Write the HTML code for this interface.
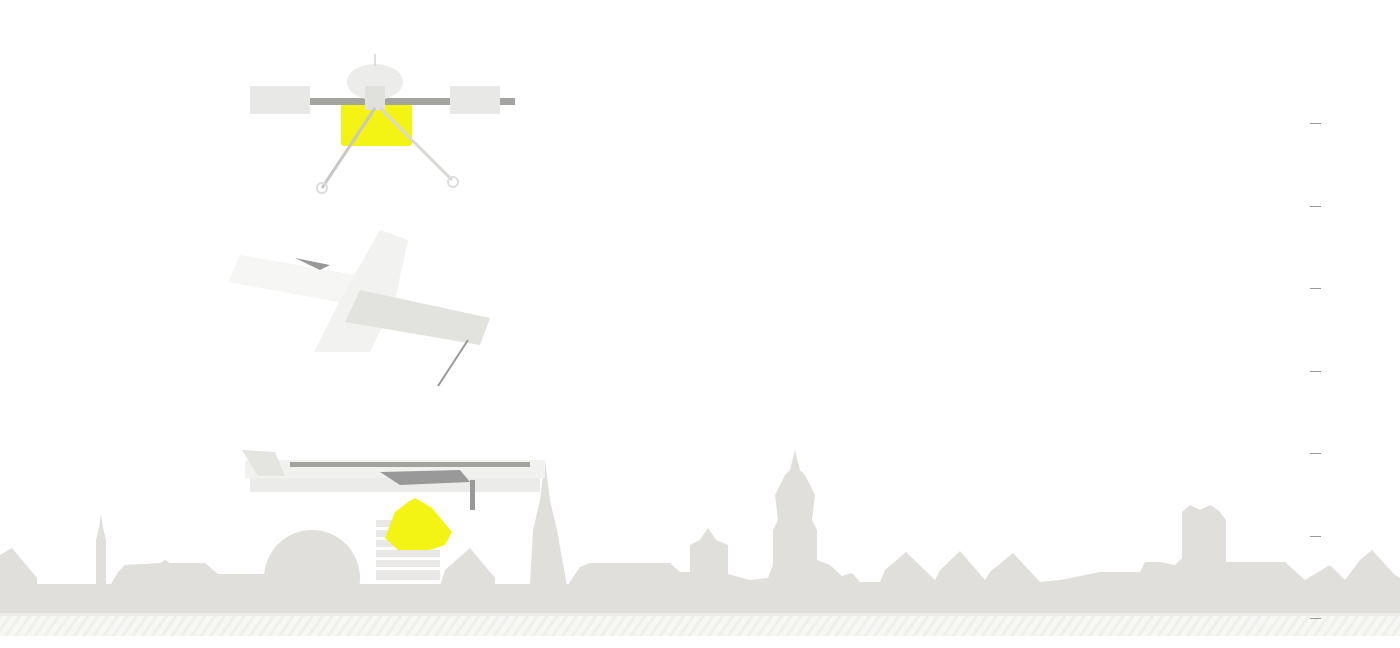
<!DOCTYPE html>
<html><head><meta charset="utf-8"><style>html,body{margin:0;padding:0;background:#fff;width:1400px;height:648px;overflow:hidden}</style></head>
<body>
<svg width="1400" height="648" viewBox="0 0 1400 648" xmlns="http://www.w3.org/2000/svg">
<defs>
<pattern id="h" width="8" height="8" patternUnits="userSpaceOnUse" patternTransform="rotate(35)">
<rect width="8" height="8" fill="#f7f7f5"/><rect width="3" height="8" fill="#efefec"/></pattern>
</defs>
<!-- skyline -->
<g fill="#e0dfdc">
<polygon points="0,555 12,548 37,578 37,586 0,586"/>
<polygon points="96,586 96,540 99,528 101,514 103,528 106,540 106,586"/>
<polygon points="110,586 118,572 125,565 160,563 165,560 170,563 205,563 218,574 265,574 265,586"/>
<circle cx="312" cy="578" r="48"/>
<polygon points="440,586 445,570 470,548 495,578 495,586"/>
<polygon points="530,586 533,530 540,500 545,460 550,500 557,530 567,586"/>
<polygon points="567,586 580,567 590,563 670,563 680,572 690,572 690,545 700,540 708,528 716,540 728,545 728,574 750,580 768,578 773,565 773,530 778,520 775,495 785,475 790,470 795,450 800,470 805,475 815,495 812,520 817,530 817,560 830,565 842,576 852,573 860,582 880,582 885,570 906,552 935,580 940,570 960,551 985,580 990,572 1013,553 1040,582 1060,580 1100,572 1140,572 1145,562 1160,562 1175,565 1182,558 1182,512 1190,505 1200,510 1210,505 1218,510 1226,520 1226,562 1285,562 1305,580 1330,565 1345,580 1360,560 1372,550 1395,575 1400,578 1400,586"/>
<rect x="0" y="584" width="1400" height="30"/>
</g>
<rect x="0" y="613" width="1400" height="3" fill="#ebebea"/>
<rect x="0" y="616" width="1400" height="20" fill="url(#h)"/>
<!-- striped building -->
<g fill="#e9e8e6"><rect x="376" y="520" width="64" height="60"/></g>
<g fill="#fff"><rect x="376" y="527" width="64" height="3"/><rect x="376" y="537" width="64" height="3"/><rect x="376" y="547" width="64" height="3"/><rect x="376" y="557" width="64" height="3"/><rect x="376" y="567" width="64" height="3"/></g>
<!-- yellow bell -->
<path d="M415,498 L422,502 L432,508 L452,532 L445,545 L430,550 L398,550 L385,538 L395,512 L408,502 Z" fill="#f3f314"/>
<!-- fixed wing bottom -->
<g>
<rect x="245" y="460" width="300" height="18" fill="#f1f1ef"/>
<rect x="250" y="478" width="290" height="14" fill="#ebebea"/>
<polygon points="242,450 275,452 285,476 258,476" fill="#e4e4e1"/>
<rect x="290" y="462" width="240" height="5" fill="#a3a3a0"/>
<polygon points="380,472 460,470 470,482 400,485" fill="#999"/>
<rect x="470" y="480" width="5" height="30" fill="#999"/>
</g>
<!-- quadcopter -->
<g>
<rect x="341" y="104" width="71" height="42" rx="3" fill="#f3f314"/>
<rect x="255" y="98" width="260" height="7" fill="#a3a3a0"/>
<rect x="250" y="86" width="60" height="28" fill="#e8e8e6"/>
<rect x="450" y="86" width="50" height="28" fill="#e8e8e6"/>
<ellipse cx="375" cy="82" rx="28" ry="18" fill="#ececea"/>
<rect x="365" y="86" width="20" height="24" fill="#e0e0dd"/>
<line x1="375" y1="108" x2="322" y2="188" stroke="#c8c8c5" stroke-width="3"/>
<line x1="380" y1="108" x2="452" y2="180" stroke="#d8d8d5" stroke-width="3"/>
<circle cx="322" cy="188" r="5" fill="none" stroke="#ddd" stroke-width="2"/>
<circle cx="453" cy="182" r="5" fill="none" stroke="#ddd" stroke-width="2"/>
<line x1="375" y1="54" x2="375" y2="66" stroke="#ddd" stroke-width="2"/>
</g>
<!-- fixed wing angled -->
<g>
<polygon points="240,255 355,275 355,305 228,282" fill="#f6f6f4"/>
<polygon points="380,230 408,240 395,300 370,352 314,352 340,300" fill="#f2f2f0"/>
<polygon points="360,290 490,318 480,345 345,322" fill="#e2e2df"/>
<line x1="468" y1="340" x2="438" y2="386" stroke="#999" stroke-width="2"/>
<polygon points="295,258 330,265 320,270" fill="#999"/>
</g>
<!-- ticks -->
<g stroke="#999" stroke-width="1">
<line x1="1310" y1="123.5" x2="1321" y2="123.5"/>
<line x1="1310" y1="206.5" x2="1321" y2="206.5"/>
<line x1="1310" y1="288.5" x2="1321" y2="288.5"/>
<line x1="1310" y1="371.5" x2="1321" y2="371.5"/>
<line x1="1310" y1="453.5" x2="1321" y2="453.5"/>
<line x1="1310" y1="536.5" x2="1321" y2="536.5"/>
<line x1="1310" y1="618.5" x2="1321" y2="618.5"/>
</g>
</svg>
</body></html>
